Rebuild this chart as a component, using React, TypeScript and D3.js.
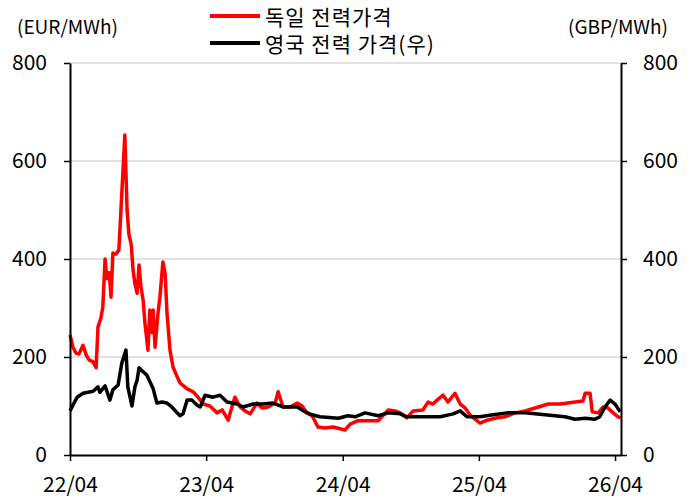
import * as d3 from 'd3'
import React, { useRef, useEffect } from 'react'

// 독일 전력가격 (EUR/MWh)
const germanyDates = [
  '2022-04-01', '2022-04-09', '2022-04-17', '2022-04-25', '2022-05-06', '2022-05-14', '2022-05-22', '2022-06-02',
  '2022-06-10', '2022-06-15', '2022-06-23', '2022-06-28', '2022-07-04', '2022-07-09', '2022-07-15', '2022-07-20',
  '2022-07-25', '2022-08-02', '2022-08-10', '2022-08-16', '2022-08-21', '2022-08-26', '2022-09-01', '2022-09-06',
  '2022-09-12', '2022-09-17', '2022-09-22', '2022-09-28', '2022-10-03', '2022-10-08', '2022-10-14', '2022-10-19',
  '2022-10-27', '2022-11-01', '2022-11-07', '2022-11-10', '2022-11-15', '2022-11-23', '2022-11-28', '2022-12-06',
  '2022-12-12', '2022-12-17', '2022-12-25', '2023-01-02', '2023-01-13', '2023-01-21', '2023-02-01', '2023-02-09',
  '2023-02-25', '2023-03-10', '2023-03-24', '2023-04-11', '2023-04-30', '2023-05-14', '2023-05-30', '2023-06-09',
  '2023-06-17', '2023-07-01', '2023-07-14', '2023-07-28', '2023-08-15', '2023-08-29', '2023-09-14', '2023-10-03',
  '2023-10-11', '2023-10-24', '2023-11-12', '2023-12-01', '2023-12-14', '2023-12-27', '2024-01-10', '2024-01-26',
  '2024-02-14', '2024-03-06', '2024-04-07', '2024-04-21', '2024-05-12', '2024-06-08', '2024-07-05', '2024-08-01',
  '2024-08-19', '2024-09-02', '2024-09-20', '2024-10-07', '2024-11-02', '2024-11-16', '2024-11-29', '2024-12-10',
  '2024-12-26', '2025-01-08', '2025-01-27', '2025-02-10', '2025-02-23', '2025-03-08', '2025-04-04', '2025-04-23',
  '2025-05-20', '2025-06-10', '2025-07-07', '2025-08-03', '2025-08-30', '2025-10-04', '2025-11-05', '2025-12-15',
  '2026-01-05', '2026-01-11', '2026-01-24', '2026-01-30', '2026-02-15', '2026-02-28', '2026-03-13', '2026-03-27',
  '2026-04-09', '2026-04-16'
]
const germanyPrice = [
  245, 220, 208, 206, 224, 205, 194, 190,
  178, 261, 280, 302, 400, 360, 372, 322,
  412, 410, 418, 506, 580, 653, 500, 450,
  430, 378, 350, 330, 388, 345, 316, 269,
  214, 296, 250, 296, 220, 290, 322, 394,
  370, 290, 214, 180, 160, 147, 140, 135,
  129, 118, 104, 100, 86, 92, 71, 98,
  118, 98, 90, 84, 106, 96, 98, 106,
  129, 98, 98, 106, 100, 86, 80, 57,
  55, 57, 51, 63, 70, 70, 70, 92,
  90, 86, 76, 90, 92, 108, 104, 112,
  122, 108, 126, 104, 96, 82, 65, 71,
  76, 78, 86, 90, 96, 104, 104, 108,
  110, 126, 126, 88, 86, 98, 96, 86,
  78, 76
]

// 영국 전력 가격 (GBP/MWh, right axis)
const ukDates = [
  '2022-04-01', '2022-04-20', '2022-05-06', '2022-06-02', '2022-06-15', '2022-06-20', '2022-07-04', '2022-07-17',
  '2022-07-25', '2022-08-08', '2022-08-18', '2022-08-29', '2022-09-03', '2022-09-09', '2022-09-14', '2022-09-22',
  '2022-09-28', '2022-10-03', '2022-10-14', '2022-10-24', '2022-11-01', '2022-11-10', '2022-11-20', '2022-12-04',
  '2022-12-17', '2022-12-30', '2023-01-13', '2023-01-21', '2023-01-29', '2023-02-09', '2023-02-22', '2023-03-07',
  '2023-03-16', '2023-03-29', '2023-04-19', '2023-05-08', '2023-05-27', '2023-06-23', '2023-07-09', '2023-08-05',
  '2023-08-31', '2023-09-27', '2023-10-24', '2023-12-01', '2023-12-22', '2024-01-10', '2024-01-31', '2024-03-20',
  '2024-04-15', '2024-05-04', '2024-05-31', '2024-07-05', '2024-08-01', '2024-09-02', '2024-09-20', '2024-10-25',
  '2024-12-18', '2025-01-22', '2025-02-10', '2025-02-28', '2025-04-04', '2025-05-09', '2025-06-16', '2025-08-03',
  '2025-09-25', '2025-11-18', '2025-12-15', '2026-01-11', '2026-02-06', '2026-02-19', '2026-03-05', '2026-03-19',
  '2026-04-01', '2026-04-15'
]
const ukPrice = [
  90, 118, 126, 130, 139, 128, 141, 112,
  133, 143, 188, 214, 139, 118, 100, 139,
  153, 178, 170, 163, 150, 135, 106, 108,
  106, 98, 86, 80, 84, 112, 112, 102,
  98, 122, 118, 122, 108, 104, 98, 104,
  104, 106, 98, 98, 88, 82, 78, 75,
  80, 78, 86, 80, 86, 84, 78, 78,
  78, 84, 90, 78, 78, 82, 86, 86,
  82, 78, 73, 75, 73, 78, 98, 112,
  104, 88
]

const yTicks = [0, 200, 400, 600, 800]
const xTickDates = ['2022-04-01', '2023-04-01', '2024-04-01', '2025-04-01', '2026-04-01']
const xTickLabels = ['22/04', '23/04', '24/04', '25/04', '26/04']
const seriesNames = ['독일 전력가격', '영국 전력 가격(우)']
const seriesColors = ['#ff0000', '#000000']
const leftUnit = '(EUR/MWh)'
const rightUnit = '(GBP/MWh)'

const FONT = '"Noto Sans CJK KR", "Noto Sans", sans-serif'

export default function App() {
  const ref = useRef(null)

  const width = 698
  const height = 499
  const margin = { top: 63, right: 77, bottom: 44, left: 70 }
  const innerW = width - margin.left - margin.right
  const innerH = height - margin.top - margin.bottom

  useEffect(() => {
    d3.select(ref.current).selectAll('*').remove()

    const parse = d3.timeParse('%Y-%m-%d')

    const svg = d3.select(ref.current)
      .append('svg')
      .attr('width', width)
      .attr('height', height)
      .style('position', 'absolute')
      .style('left', 0)
      .style('top', 0)
      .style('background', '#fff')
      .style('font-family', FONT)

    const g = svg.append('g')
      .attr('transform', 'translate(' + margin.left + ',' + margin.top + ')')

    const x = d3.scaleTime()
      .domain([parse('2022-04-01'), parse('2026-04-17')])
      .range([0, innerW])

    const y = d3.scaleLinear().domain([0, 800]).range([innerH, 0])
    const y2 = d3.scaleLinear().domain([0, 800]).range([innerH, 0])

    // gridlines
    g.append('g')
      .selectAll('line')
      .data(yTicks.filter(d => d > 0))
      .enter().append('line')
      .attr('x1', 0)
      .attr('x2', innerW)
      .attr('y1', d => y(d))
      .attr('y2', d => y(d))
      .attr('stroke', '#d9d9d9')
      .attr('stroke-width', 1.5)

    const germany = germanyDates.map((d, i) => ({ date: parse(d), value: germanyPrice[i] }))
    const uk = ukDates.map((d, i) => ({ date: parse(d), value: ukPrice[i] }))

    const line = d3.line().x(d => x(d.date)).y(d => y(d.value))
    const line2 = d3.line().x(d => x(d.date)).y(d => y2(d.value))

    g.append('path')
      .datum(germany)
      .attr('d', line)
      .attr('fill', 'none')
      .attr('stroke', seriesColors[0])
      .attr('stroke-width', 3.5)
      .attr('stroke-linejoin', 'round')

    g.append('path')
      .datum(uk)
      .attr('d', line2)
      .attr('fill', 'none')
      .attr('stroke', seriesColors[1])
      .attr('stroke-width', 3.5)
      .attr('stroke-linejoin', 'round')

    // axes
    const styleAxis = sel => {
      sel.select('.domain').attr('stroke', '#000').attr('stroke-width', 2)
      sel.selectAll('.tick line').attr('stroke', '#000').attr('stroke-width', 1.5)
      sel.selectAll('text')
        .attr('fill', '#000')
        .style('font-family', FONT)
        .style('font-size', '21px')
    }

    g.append('g')
      .call(d3.axisLeft(y).tickValues(yTicks).tickSize(6).tickSizeOuter(0).tickPadding(17))
      .call(styleAxis)

    g.append('g')
      .attr('transform', `translate(${innerW}, 0)`)
      .call(d3.axisRight(y2).tickValues(yTicks).tickSize(6).tickSizeOuter(0).tickPadding(16))
      .call(styleAxis)

    g.append('g')
      .attr('transform', `translate(0, ${innerH})`)
      .call(d3.axisBottom(x)
        .tickValues(xTickDates.map(d => parse(d)))
        .tickFormat((d, i) => xTickLabels[i])
        .tickSize(6)
        .tickSizeOuter(0)
        .tickPadding(16))
      .call(styleAxis)

    // units
    svg.append('text')
      .attr('x', 17)
      .attr('y', 34)
      .style('font-size', '19px')
      .text(leftUnit)

    svg.append('text')
      .attr('x', 668)
      .attr('y', 34)
      .attr('text-anchor', 'end')
      .style('font-size', '19px')
      .text(rightUnit)

    // legend
    const legend = svg.append('g').attr('transform', 'translate(210, 16)')
    seriesNames.forEach((name, i) => {
      legend.append('line')
        .attr('x1', 0)
        .attr('x2', 50)
        .attr('y1', i * 27)
        .attr('y2', i * 27)
        .attr('stroke', seriesColors[i])
        .attr('stroke-width', 4)
      legend.append('text')
        .attr('x', 55)
        .attr('y', i * 27 + 9)
        .style('font-size', '21px')
        .style('letter-spacing', '1px')
        .text(name)
    })
  }, [])

  return (
    <div ref={ref}>
    </div>
  )
}
